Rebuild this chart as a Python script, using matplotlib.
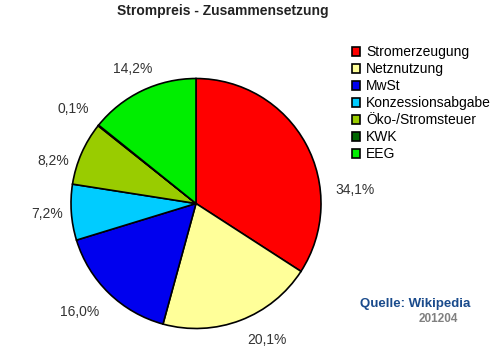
import matplotlib
matplotlib.use("Agg")
import matplotlib.pyplot as plt

plt.rcParams["font.family"] = ["Liberation Sans", "DejaVu Sans"]

# Strompreis-Anteile (Prozent), Reihenfolge im Uhrzeigersinn ab 12 Uhr
categories = ["Stromerzeugung", "Netznutzung", "MwSt", "Konzessionsabgabe",
              "Öko-/Stromsteuer", "KWK", "EEG"]
shares = [34.1, 20.1, 16.0, 7.2, 8.2, 0.1, 14.2]
colors = ["#ff0000", "#ffff99", "#0000ee", "#00ccff", "#99cc00", "#006600", "#00ee00"]
pct_labels = ["34,1%", "20,1%", "16,0%", "7,2%", "8,2%", "0,1%", "14,2%"]

# label centres in pixels (x from left, y from top)
label_px = [(355, 190), (267, 340), (80, 312), (47, 214), (53, 161), (73, 109), (133, 69)]

W, H = 500, 352
fig = plt.figure(figsize=(W / 100, H / 100), dpi=100)

# pie centred at (196, 203.5) px, radius 125 px
cx, cy, r = 196, 203.5, 125
ax = fig.add_axes([(cx - r) / W, (H - cy - r) / H, 2 * r / W, 2 * r / H])
wedges, _ = ax.pie(shares, colors=colors, startangle=90, counterclock=False,
                   radius=1.0, wedgeprops=dict(edgecolor="black", linewidth=1.2))
ax.set_xlim(-1, 1)
ax.set_ylim(-1, 1)
ax.set_aspect("equal")
ax.axis("off")

for txt, (px, py) in zip(pct_labels, label_px):
    fig.text(px / W, 1 - py / H, txt, ha="center", va="center", fontsize=10, color="#333333")

fig.text(223 / W, 1 - 11 / H, "Strompreis - Zusammensetzung", ha="center", va="center",
         fontsize=10, fontweight="bold", color="#222222")

fig.legend(wedges, categories, loc="upper left", bbox_to_anchor=(352 / W, 1 - 45 / H),
           frameon=False, fontsize=10, handlelength=0.6, handleheight=0.6,
           handletextpad=0.4, labelspacing=0.22, borderpad=0, borderaxespad=0)

fig.text(415 / W, 1 - 304 / H, "Quelle: Wikipedia", ha="center", va="center",
         fontsize=9.5, fontweight="bold", color="#1a4b8c")
fig.text(438 / W, 1 - 319 / H, "201204", ha="center", va="center",
         fontsize=8.5, fontweight="bold", color="#808080")

fig.savefig("out.png", dpi=100)
